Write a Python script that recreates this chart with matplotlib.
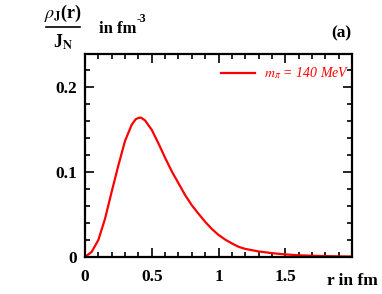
import matplotlib.pyplot as plt
from matplotlib.lines import Line2D
from matplotlib.ticker import MultipleLocator

plt.rcParams['font.family'] = ['Liberation Serif', 'DejaVu Serif']
plt.rcParams['mathtext.fontset'] = 'stix'

# radius in fm and rho_J / J_N in fm^-3
r = [0.0, 0.05, 0.1, 0.15, 0.2, 0.25, 0.3, 0.35, 0.38, 0.4, 0.42, 0.45,
     0.5, 0.55, 0.6, 0.65, 0.7, 0.75, 0.8, 0.85, 0.9, 0.95, 1.0, 1.05,
     1.1, 1.15, 1.2, 1.3, 1.4, 1.5, 1.6, 1.7, 1.8, 1.9, 2.0]
rho = [0.0, 0.006, 0.020, 0.045, 0.077, 0.108, 0.137, 0.156, 0.1625, 0.164,
       0.1643, 0.161, 0.150, 0.134, 0.117, 0.101, 0.087, 0.073, 0.061, 0.051,
       0.0415, 0.033, 0.026, 0.0205, 0.016, 0.012, 0.0095, 0.0065, 0.0045,
       0.003, 0.002, 0.0014, 0.001, 0.0007, 0.0005]
legend_label = r'$m_\pi$ = 140 MeV'
x_ticks = [0, 0.5, 1, 1.5]
x_tick_labels = ['0', '0.5', '1', '1.5']
y_ticks = [0, 0.1, 0.2]
y_tick_labels = ['0', '0.1', '0.2']

fig = plt.figure(figsize=(3.82, 2.94), dpi=100)
ax = fig.add_axes([0.2225, 0.126, 0.699, 0.692])

ax.plot(r, rho, color='#ff0000', lw=1.6, label=legend_label,
        solid_joinstyle='round')
ax.set_xlim(0, 2)
ax.set_ylim(0, 0.24)

ax.set_xticks(x_ticks)
ax.set_xticklabels(x_tick_labels, fontweight='bold', fontsize=12.5)
ax.set_yticks(y_ticks)
ax.set_yticklabels(y_tick_labels, fontweight='bold', fontsize=12.5)
ax.xaxis.set_minor_locator(MultipleLocator(0.1))
ax.yaxis.set_minor_locator(MultipleLocator(0.02))
ax.tick_params(which='both', direction='in', top=True, right=True, width=1.2)
ax.tick_params(which='major', length=6.5)
ax.tick_params(axis='x', which='major', pad=9)
ax.tick_params(axis='y', which='major', pad=6)
ax.tick_params(which='minor', length=3.5)
for s in ax.spines.values():
    s.set_linewidth(1.6)

leg = ax.legend(loc='upper right', bbox_to_anchor=(1.0, 0.955), frameon=False,
                fontsize=10, handlelength=2.5, borderaxespad=0.0,
                borderpad=0.2, handletextpad=0.6)
for t in leg.get_texts():
    t.set_color('#ff0000')
    t.set_style('italic')

# y label as a fraction above the axes
fig.text(0.165, 0.955, r'$\rho_\mathbf{J}$(r)', fontsize=13, fontweight='bold',
         ha='center', va='center')
fig.add_artist(Line2D([0.12, 0.21], [0.907, 0.907], color='black', lw=1.2))
fig.text(0.165, 0.855, r'J$_\mathbf{N}$', fontsize=13, fontweight='bold',
         ha='center', va='center')
fig.text(0.26, 0.9, 'in fm', fontsize=12, fontweight='bold',
         ha='left', va='center')
fig.text(0.358, 0.935, '-3', fontsize=8.5, fontweight='bold',
         ha='left', va='center')

fig.text(0.92, 0.888, '(a)', fontsize=12.5, fontweight='bold',
         ha='right', va='center')
fig.text(0.99, 0.045, 'r in fm', fontsize=12.5, fontweight='bold',
         ha='right', va='center')

fig.savefig('out.png', dpi=100)
